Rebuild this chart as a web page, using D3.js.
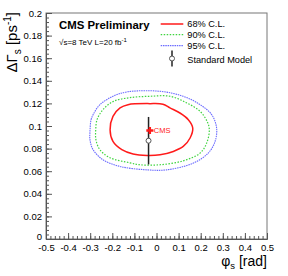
<!DOCTYPE html>
<html>
<head>
<meta charset="utf-8">
<script src="https://cdn.jsdelivr.net/npm/d3@7"></script>
<style>
  body { margin: 0; background: #fff; }
  text { font-family: "Liberation Sans", Arial, sans-serif; }
</style>
</head>
<body>
<div id="chart"></div>
<script>
// confidence contours, [phi_s, deltaGamma_s]
const cl68 = [
  [-0.210, 0.0967], [-0.197, 0.1085], [-0.165, 0.116], [-0.129, 0.1189],
  [-0.029, 0.1198], [0.029, 0.1193], [0.061, 0.116], [0.106, 0.1115],
  [0.144, 0.1056], [0.164, 0.0982], [0.152, 0.0894], [0.121, 0.0819],
  [0.076, 0.0775], [0.016, 0.0745], [-0.043, 0.0739], [-0.106, 0.0752],
  [-0.157, 0.079], [-0.197, 0.0863]
];
const cl90 = [
  [-0.275, 0.0967], [-0.269, 0.1056], [-0.242, 0.1145], [-0.195, 0.1218],
  [-0.120, 0.1251], [-0.029, 0.1263], [0.061, 0.1263], [0.137, 0.1204],
  [0.197, 0.113], [0.229, 0.1041], [0.239, 0.0967], [0.227, 0.0849],
  [0.197, 0.076], [0.121, 0.0692], [0.016, 0.0657], [-0.075, 0.0657],
  [-0.120, 0.0674], [-0.210, 0.0719], [-0.256, 0.079], [-0.274, 0.0878]
];
const cl95 = [
  [-0.301, 0.0952], [-0.296, 0.1056], [-0.287, 0.11], [-0.256, 0.1189],
  [-0.197, 0.1263], [-0.133, 0.1302], [0.016, 0.1307], [0.121, 0.1263],
  [0.197, 0.1189], [0.250, 0.11], [0.272, 0.0982], [0.265, 0.0863],
  [0.234, 0.076], [0.167, 0.0672], [0.046, 0.0612], [-0.044, 0.0612],
  [-0.165, 0.0642], [-0.242, 0.0701], [-0.287, 0.079], [-0.301, 0.0878]
];

const cmsPoint = [-0.03, 0.096];
const smPoint = [-0.036, 0.087];
const smError = [0.066, 0.108];

const xTicks = [-0.5, -0.4, -0.3, -0.2, -0.1, 0, 0.1, 0.2, 0.3, 0.4, 0.5];
const xTickLabels = ["-0.5", "-0.4", "-0.3", "-0.2", "-0.1", "0", "0.1", "0.2", "0.3", "0.4", "0.5"];
const yTicks = [0, 0.02, 0.04, 0.06, 0.08, 0.1, 0.12, 0.14, 0.16, 0.18, 0.2];
const yTickLabels = ["0", "0.02", "0.04", "0.06", "0.08", "0.1", "0.12", "0.14", "0.16", "0.18", "0.2"];

const legendLabels = ["68% C.L.", "90% C.L.", "95% C.L.", "Standard Model"];

const width = 288;
const height = 276;
const margin = { top: 13, right: 21, bottom: 37, left: 46 };

const svg = d3.select("#chart")
    .append("svg")
    .attr("width", width)
    .attr("height", height);

const x = d3.scaleLinear().domain([-0.5, 0.5]).range([margin.left, width - margin.right]);
const y = d3.scaleLinear().domain([0, 0.2]).range([height - margin.bottom, margin.top]);

// frame
svg.append("rect")
    .attr("x", x(-0.5))
    .attr("y", y(0.2))
    .attr("width", x(0.5) - x(-0.5))
    .attr("height", y(0) - y(0.2))
    .attr("fill", "none")
    .attr("stroke", "#777")
    .attr("stroke-width", 1);

// minor ticks
const xMinor = d3.range(-0.5, 0.5001, 0.02);
const yMinor = d3.range(0, 0.2001, 0.004);

svg.append("g")
    .attr("transform", `translate(0, ${y(0)})`)
    .call(d3.axisBottom(x).tickValues(xMinor).tickSize(-3).tickFormat(""))
    .call(g => g.select(".domain").remove())
    .selectAll("line").attr("stroke", "#555");

svg.append("g")
    .attr("transform", `translate(${x(-0.5)}, 0)`)
    .call(d3.axisLeft(y).tickValues(yMinor).tickSize(-3).tickFormat(""))
    .call(g => g.select(".domain").remove())
    .selectAll("line").attr("stroke", "#555");

// major ticks + labels
const xAxis = svg.append("g")
    .attr("transform", `translate(0, ${y(0)})`)
    .call(d3.axisBottom(x).tickValues(xTicks).tickSize(-6).tickPadding(4)
        .tickFormat((d, i) => xTickLabels[i]));
xAxis.select(".domain").attr("stroke", "#555");
xAxis.selectAll("line").attr("stroke", "#555");
xAxis.selectAll("text")
    .attr("y", 5)
    .attr("font-size", "9.5px")
    .attr("fill", "#000");

const yAxis = svg.append("g")
    .attr("transform", `translate(${x(-0.5)}, 0)`)
    .call(d3.axisLeft(y).tickValues(yTicks).tickSize(-6).tickPadding(4)
        .tickFormat((d, i) => yTickLabels[i]));
yAxis.select(".domain").attr("stroke", "#555");
yAxis.selectAll("line").attr("stroke", "#555");
yAxis.selectAll("text")
    .attr("x", -4)
    .attr("y", d => d === 0 ? -3 : 0)
    .attr("font-size", "9.5px")
    .attr("fill", "#000");

// axis titles
const xTitle = svg.append("text")
    .attr("x", x(0.5))
    .attr("y", 266)
    .attr("text-anchor", "end")
    .attr("font-size", "14px");
xTitle.append("tspan").text("\u03c6");
xTitle.append("tspan").attr("font-size", "9.5px").attr("dy", 3).text("s");
xTitle.append("tspan").attr("dy", -3).text(" [rad]");

const yTitle = svg.append("text")
    .attr("transform", `translate(17, ${y(0.2) - 1}) rotate(-90)`)
    .attr("text-anchor", "end")
    .attr("font-size", "15px");
yTitle.append("tspan").text("\u0394\u0393");
yTitle.append("tspan").attr("font-size", "10px").attr("dy", 4).text("s");
yTitle.append("tspan").attr("dy", -4).text(" [ps");
yTitle.append("tspan").attr("font-size", "10px").attr("dy", -6).text("-1");
yTitle.append("tspan").attr("dy", 6).text("]");

// contours
const contour = d3.line()
    .x(d => x(d[0]))
    .y(d => y(d[1]))
    .curve(d3.curveCatmullRomClosed.alpha(0.5));

svg.append("path")
    .attr("d", contour(cl95))
    .attr("fill", "none")
    .attr("stroke", "#6b6bff")
    .attr("stroke-width", 1.1)
    .attr("stroke-dasharray", "1.5,0.8");

svg.append("path")
    .attr("d", contour(cl90))
    .attr("fill", "none")
    .attr("stroke", "#3fd43f")
    .attr("stroke-width", 1.2)
    .attr("stroke-dasharray", "1.5,1.5");

svg.append("path")
    .attr("d", contour(cl68))
    .attr("fill", "none")
    .attr("stroke", "#ff1a1a")
    .attr("stroke-width", 1.5);

// standard model point
svg.append("line")
    .attr("x1", x(smPoint[0]))
    .attr("x2", x(smPoint[0]))
    .attr("y1", y(smError[0]))
    .attr("y2", y(smError[1]))
    .attr("stroke", "#222")
    .attr("stroke-width", 1.5);

svg.append("circle")
    .attr("cx", x(smPoint[0]))
    .attr("cy", y(smPoint[1]))
    .attr("r", 2.5)
    .attr("fill", "#fff")
    .attr("stroke", "#555")
    .attr("stroke-width", 1);

// CMS point
svg.append("path")
    .attr("d", d3.symbol().type(d3.symbolCross).size(28)())
    .attr("transform", `translate(${x(cmsPoint[0])}, ${y(cmsPoint[1])})`)
    .attr("fill", "#ff1a1a");

svg.append("text")
    .attr("x", x(cmsPoint[0]) + 4)
    .attr("y", y(cmsPoint[1]) + 2.7)
    .attr("font-size", "7.5px")
    .attr("fill", "#ff1a1a")
    .text("CMS");

// header text
svg.append("text")
    .attr("x", 59)
    .attr("y", 28.5)
    .attr("font-size", "11.4px")
    .attr("font-weight", "bold")
    .text("CMS Preliminary");

const lumi = svg.append("text")
    .attr("x", 59)
    .attr("y", 44.5)
    .attr("font-size", "8px");
lumi.append("tspan").text("\u221as=8 TeV  L=20 fb");
lumi.append("tspan").attr("font-size", "6px").attr("dy", -3).text("-1");

// legend
const legendX1 = 160.7;
const legendX2 = 183.3;
const legendTextX = 187.3;
const legendY = [24, 34.6, 45.6, 59.5];
const legendStyle = [
  { stroke: "#ff1a1a", width: 1.5, dash: null },
  { stroke: "#3fd43f", width: 1.2, dash: "1.5,1.5" },
  { stroke: "#6b6bff", width: 1.1, dash: "1.5,0.8" }
];

legendStyle.forEach((s, i) => {
    svg.append("line")
        .attr("x1", legendX1)
        .attr("x2", legendX2)
        .attr("y1", legendY[i])
        .attr("y2", legendY[i])
        .attr("stroke", s.stroke)
        .attr("stroke-width", s.width)
        .attr("stroke-dasharray", s.dash);
});

const smX = (legendX1 + legendX2) / 2;
svg.append("line")
    .attr("x1", smX)
    .attr("x2", smX)
    .attr("y1", legendY[3] - 9)
    .attr("y2", legendY[3] + 7)
    .attr("stroke", "#222")
    .attr("stroke-width", 1.5);
svg.append("circle")
    .attr("cx", smX)
    .attr("cy", legendY[3] - 1)
    .attr("r", 2.5)
    .attr("fill", "#fff")
    .attr("stroke", "#555");

svg.selectAll(".legend-label")
    .data(legendLabels)
    .enter()
    .append("text")
    .attr("class", "legend-label")
    .attr("x", legendTextX)
    .attr("y", (d, i) => legendY[i] + 3.3)
    .attr("font-size", "9.2px")
    .text(d => d);
</script>
</body>
</html>
